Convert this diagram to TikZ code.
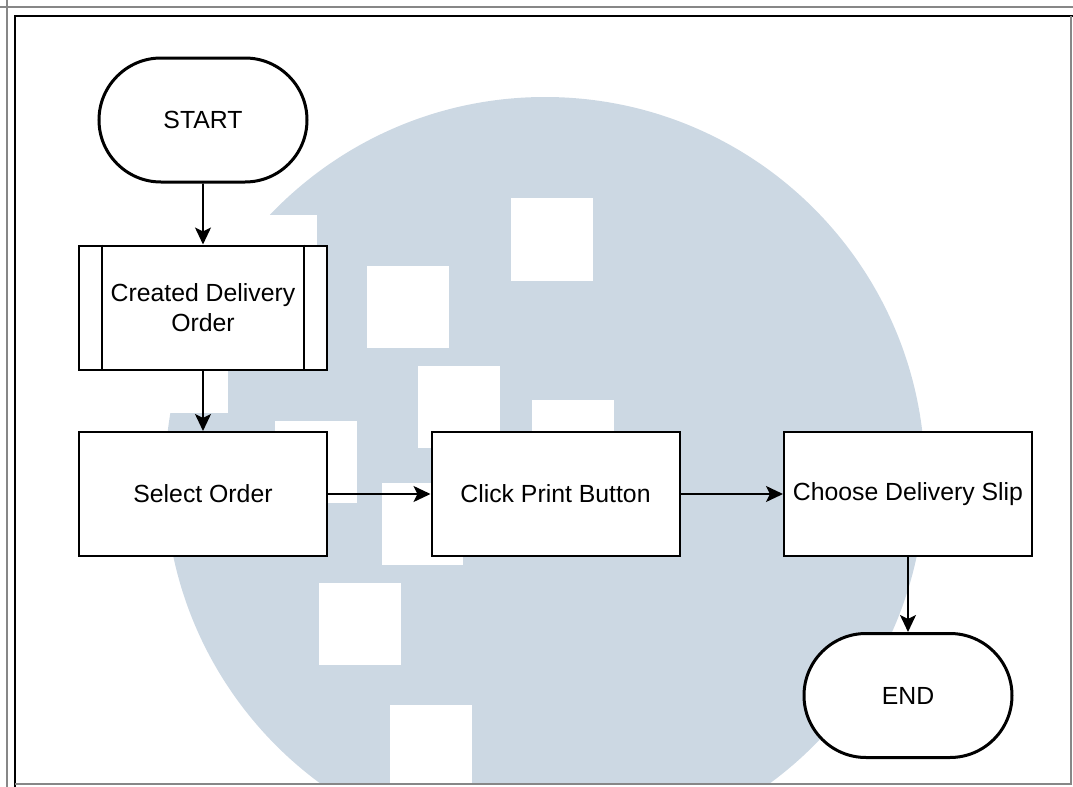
\documentclass[tikz,border=0pt]{standalone}
\usepackage{fontspec}
\setmainfont{Liberation Sans}
\usepackage{tikz}
\usetikzlibrary{arrows.meta}
\usetikzlibrary{shapes.misc}
\definecolor{logoblue}{RGB}{204,216,227}
\definecolor{framegray}{RGB}{135,135,135}

\begin{document}
\begin{tikzpicture}[x=0.5pt,y=-0.5pt,
	box/.style={draw,line width=1pt,fill=white,minimum width=124pt,minimum height=62pt,inner sep=2pt,align=center,font=\fontsize{12.4}{15}\selectfont},
	terminal/.style={rounded rectangle,draw,line width=1.5pt,fill=white,minimum width=104pt,minimum height=62pt,inner sep=0pt,font=\fontsize{12.4}{15}\selectfont},
	flow/.style={line width=0.8pt,-{Stealth[length=8.5pt,width=8pt,inset=2pt]}}]
	\useasboundingbox (0,0) rectangle (1073,787);

	% watermark behind the chart
	\begin{scope}
	\clip (15,16) rectangle (1071,784);
	\fill[logoblue] (545,477) circle[radius=190pt];
	\fill[white] (511,198) rectangle (593,281);
	\fill[white] (367,266) rectangle (449,348);
	\fill[white] (418,366) rectangle (500,448);
	\fill[white] (532,400) rectangle (614,482);
	\fill[white] (275,421) rectangle (357,503);
	\fill[white] (382,483) rectangle (463,565);
	\fill[white] (319,583) rectangle (401,665);
	\fill[white] (390,705) rectangle (472,787);
	\fill[white] (235,215) rectangle (317,297);
	\fill[white] (146,331) rectangle (228,413);
	\end{scope}

	% frame
	\draw[framegray,line width=1pt] (0,7)--(1073,7);
	\draw[framegray,line width=1pt] (7,0)--(7,787);
	\draw[black,line width=1.2pt] (15,787)--(15,16)--(1073,16);
	\draw[framegray,line width=1pt] (1071,16)--(1071,784)--(15,784);

	% chart
	\node[terminal] (start) at (203,120) {START};
	\node[box] (created) at (203,307.5) {Created Delivery\\Order};
	\draw[line width=1pt] ([xshift=12pt]created.north west)--([xshift=12pt]created.south west);
	\draw[line width=1pt] ([xshift=-12pt]created.north east)--([xshift=-12pt]created.south east);
	\node[box] (select) at (203,494) {Select Order};
	\node[box] (click) at (555.5,494) {Click Print Button};
	\node[box] (choose) at (908,494) {Choose Delivery Slip};
	\node[terminal] (end) at (908,695.5) {END};

	\draw[flow] (start)--(created);
	\draw[flow] (created)--(select);
	\draw[flow] (select)--(click);
	\draw[flow] (click)--(choose);
	\draw[flow] (choose)--(end);
\end{tikzpicture}
\end{document}
